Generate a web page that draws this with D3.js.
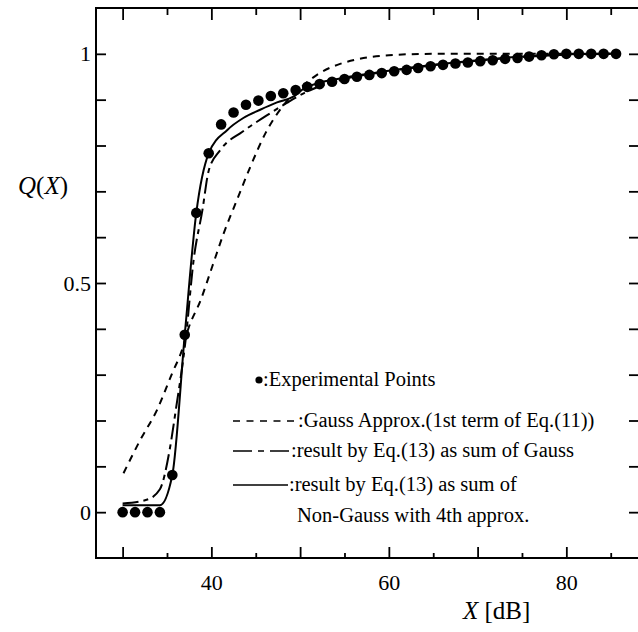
<!DOCTYPE html>
<html>
<head>
<meta charset="utf-8">
<script src="https://cdn.jsdelivr.net/npm/d3@7"></script>
<style>
  html, body { margin: 0; padding: 0; background: #fff; }
  svg { display: block; }
  text { font-family: "Liberation Serif", "Times New Roman", serif; fill: #000; }
</style>
</head>
<body>
<svg id="chart" width="638" height="632"></svg>
<script>
// ---------- data ----------
const expX = [30, 31.4, 32.8, 34.2, 35.6, 37.0, 38.3, 39.7, 41.1, 42.5, 43.9, 45.3, 46.7, 48.1,
  49.5, 50.8, 52.2, 53.6, 55.0, 56.4, 57.8, 59.2, 60.6, 62.0, 63.3, 64.7, 66.1, 67.5, 68.9,
  70.3, 71.7, 73.1, 74.5, 75.8, 77.2, 78.6, 80.0, 81.4, 82.8, 84.2, 85.6];
const expQ = [0, 0, 0, 0, 0.081, 0.387, 0.653, 0.783, 0.846, 0.872, 0.889, 0.898, 0.908, 0.914,
  0.921, 0.928, 0.934, 0.939, 0.945, 0.950, 0.954, 0.958, 0.962, 0.965, 0.969, 0.973, 0.976,
  0.979, 0.981, 0.984, 0.986, 0.989, 0.991, 0.994, 0.997, 0.999, 1.0, 1.0, 1.0, 1.0, 1.0];

// Gauss approx. (1st term of Eq.(11)) – short dashes
const gaussX = [30.1, 32.0, 33.9, 35.6, 36.7, 37.4, 38.8, 40.1, 41.4, 42.9, 44.4, 46.1, 48.3,
  50.3, 52.2, 54.2, 56.4, 60.0, 65.0, 75.0, 85.0];
const gaussQ = [0.085, 0.158, 0.224, 0.304, 0.354, 0.400, 0.463, 0.536, 0.609, 0.682, 0.754,
  0.827, 0.892, 0.930, 0.958, 0.976, 0.988, 0.997, 1.0, 1.0, 1.0];

// Eq.(13) as sum of Gauss – long dashes
const sumGaussX = [30, 32.7, 34.2, 35.3, 36.0, 37.1, 38.0, 39.0, 39.7, 41.0, 43.5, 46.2, 48.5,
  50.5, 55, 60, 65, 70, 75, 80, 85];
const sumGaussQ = [0.019, 0.027, 0.05, 0.136, 0.224, 0.376, 0.55, 0.66, 0.745, 0.79, 0.83,
  0.865, 0.893, 0.915, 0.945, 0.962, 0.975, 0.985, 0.993, 0.998, 1.0];

// Eq.(13) as sum of Non-Gauss with 4th approx. – solid
const nonGaussX = [30, 34.2, 35.6, 37.0, 38.3, 39.7, 41.8, 43.6, 45.5, 47.4, 49.3, 50.5, 55,
  60, 65, 70, 75, 80, 85];
const nonGaussQ = [0.015, 0.015, 0.081, 0.387, 0.653, 0.783, 0.834, 0.860, 0.878, 0.894, 0.907,
  0.925, 0.948, 0.963, 0.976, 0.986, 0.994, 0.999, 1.0];

const xMajorTicks = [30, 40, 50, 60, 70, 80];
const xMinorTicks = [35, 45, 55, 65, 75, 85];
const xTickLabels = {40: "40", 60: "60", 80: "80"};
const yTicks = [0, 0.1, 0.2, 0.3, 0.4, 0.5, 0.6, 0.7, 0.8, 0.9, 1.0];
const yTickLabels = {0: "0", 0.5: "0.5", 1: "1"};

const legendItems = [
  {type: "dot",   text: ":Experimental Points"},
  {type: "short", text: ":Gauss Approx.(1st term of Eq.(11))"},
  {type: "long",  text: ":result by Eq.(13) as sum of Gauss"},
  {type: "solid", text: ":result by Eq.(13) as sum of"}
];
const legendExtra = "Non-Gauss with 4th approx.";

// ---------- drawing ----------
const svg = d3.select("#chart");
const x = d3.scaleLinear().domain([27, 88.3]).range([96, 640]);
const y = d3.scaleLinear().domain([-0.1, 1.1]).range([558, 8]);
const X0 = x.range()[0], X1 = x.range()[1], Y0 = y.range()[0], Y1 = y.range()[1];

// axes (ticks pointing inward)
function styleAxis(g) {
  g.select(".domain").remove();
  g.selectAll(".tick line").attr("stroke", "#000").attr("stroke-width", 1.8);
  g.selectAll(".tick text").style("font-size", "22px").attr("fill", "#000");
}
svg.append("g").attr("transform", `translate(0,${Y0})`)
  .call(d3.axisBottom(x).tickValues(xMajorTicks).tickSize(-11).tickPadding(16)
    .tickFormat(d => xTickLabels[d] || ""))
  .call(styleAxis);
svg.append("g").attr("transform", `translate(0,${Y0})`)
  .call(d3.axisBottom(x).tickValues(xMinorTicks).tickSize(-5).tickFormat(""))
  .call(styleAxis);
svg.append("g").attr("transform", `translate(0,${Y1})`)
  .call(d3.axisTop(x).tickValues(xMajorTicks).tickSize(-12).tickFormat(""))
  .call(styleAxis);
svg.append("g").attr("transform", `translate(0,${Y1})`)
  .call(d3.axisTop(x).tickValues(xMinorTicks).tickSize(-7).tickFormat(""))
  .call(styleAxis);
svg.append("g").attr("transform", `translate(${X0},0)`)
  .call(d3.axisLeft(y).tickValues(yTicks).tickSize(-10).tickPadding(5)
    .tickFormat(d => yTickLabels[Math.round(d * 10) / 10] !== undefined ? yTickLabels[Math.round(d * 10) / 10] : ""))
  .call(styleAxis);
svg.append("g").attr("transform", `translate(${X1 - 1},0)`)
  .call(d3.axisRight(y).tickValues(yTicks).tickSize(-10).tickFormat(""))
  .call(styleAxis);

// frame
svg.append("path")
  .attr("d", `M${X1},${Y1}H${X0}V${Y0}H${X1}`)
  .attr("fill", "none").attr("stroke", "#000").attr("stroke-width", 2);

// curves
const line = d3.line().x(d => x(d[0])).y(d => y(d[1])).curve(d3.curveMonotoneX);
function drawCurve(xs, qs, dash) {
  svg.append("path")
    .attr("d", line(xs.map((v, i) => [v, qs[i]])))
    .attr("fill", "none").attr("stroke", "#000").attr("stroke-width", 2)
    .attr("stroke-dasharray", dash);
}
drawCurve(gaussX, gaussQ, "7,6");
drawCurve(sumGaussX, sumGaussQ, "16,5,5,5");
drawCurve(nonGaussX, nonGaussQ, null);

// experimental points
svg.append("g").selectAll("circle")
  .data(expX.map((v, i) => [v, expQ[i]]))
  .join("circle")
  .attr("cx", d => x(d[0])).attr("cy", d => y(d[1])).attr("r", 5.3)
  .attr("fill", "#000");

// axis titles
const qt = svg.append("text").attr("x", 18).attr("y", 194).style("font-size", "25px");
qt.append("tspan").attr("font-style", "italic").text("Q");
qt.append("tspan").text("(");
qt.append("tspan").attr("font-style", "italic").text("X");
qt.append("tspan").text(")");
const xt = svg.append("text").attr("x", 463).attr("y", 619).style("font-size", "25px");
xt.append("tspan").attr("font-style", "italic").text("X");
xt.append("tspan").text(" [dB]");

// legend
const legBase = [386, 427, 457, 491];
const legG = svg.append("g");
legendItems.forEach((it, i) => {
  const by = legBase[i];
  const my = by - 6;
  let tx;
  if (it.type === "dot") {
    legG.append("circle").attr("cx", 259).attr("cy", my).attr("r", 3.6).attr("fill", "#000");
    tx = 263;
  } else {
    const x2 = it.type === "short" ? 297 : (it.type === "long" ? 290 : 288);
    const dash = it.type === "short" ? "7,6.5" : (it.type === "long" ? "19,6,6,6,19" : null);
    legG.append("line").attr("x1", 233).attr("x2", x2).attr("y1", my).attr("y2", my)
      .attr("stroke", "#000").attr("stroke-width", 1.3).attr("stroke-dasharray", dash);
    tx = x2 + 1;
  }
  legG.append("text").attr("x", tx).attr("y", by).style("font-size", "20.5px").text(it.text);
});
legG.append("text").attr("x", 297).attr("y", 522).style("font-size", "20.5px").text(legendExtra);
</script>
</body>
</html>
